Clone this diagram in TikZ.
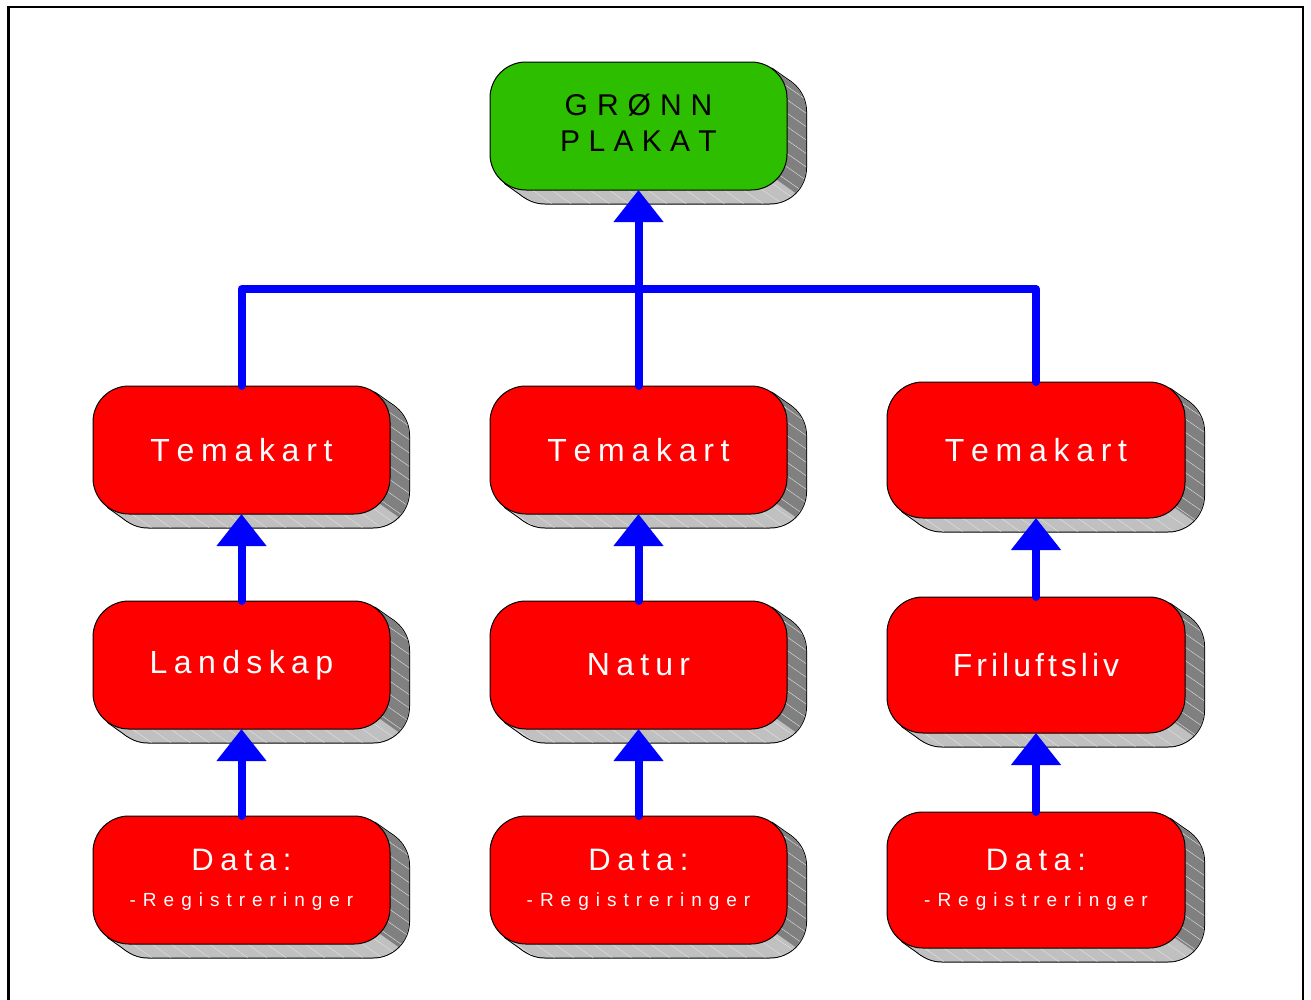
\documentclass[tikz,border=0pt]{standalone}
\usepackage{fontspec}
\setmainfont{Liberation Sans}
\usetikzlibrary{arrows.meta,patterns.meta}
\definecolor{grn}{RGB}{45,190,0}
\definecolor{rd}{RGB}{255,0,0}
\definecolor{shlight}{RGB}{192,192,192}
\definecolor{shdark}{RGB}{128,128,128}
\definecolor{connblue}{RGB}{0,0,255}

\newlength\lsp
\def\spc#1#2{\setlength\lsp{#1}\spcA#2\relax}
\def\spcA#1{\ifx\relax#1\unkern\else#1\kern\lsp\expandafter\spcA\fi}
\newcommand\twolines[2]{\vbox{\baselineskip=36pt\lineskiplimit=-100pt\lineskip=0pt
  \halign{\hfil##\hfil\cr#1\cr#2\cr}}}

\tikzset{
  card/.style={draw=black, line width=1pt, rounded corners=36pt, inner sep=0pt, outer sep=0pt},
  redcard/.style={card, fill=rd, text=white},
  greencard/.style={card, fill=grn, text=black},
  connector/.style={draw=connblue, line width=8pt, line cap=round, line join=round},
  arrowed/.style={connector, -{Triangle[width=48pt,length=32pt]}},
  shadowline/.style={draw=black, line width=2pt, line join=round},
  hatch/.style={pattern={Lines[angle=-35,distance=11pt,line width=0.4pt]}, pattern color=white!55!shlight},
}

% 3-D extrusion behind a card: #1 cx, #2 cy, #3 width, #4 height
\newcommand\cardshadow[4]{%
  \pgfmathsetmacro\xl{#1-#3/2}\pgfmathsetmacro\xr{#1+#3/2}%
  \pgfmathsetmacro\yt{#2-#4/2}\pgfmathsetmacro\yb{#2+#4/2}%
  \pgfmathsetmacro\Tax{\xr-36+36*0.579}\pgfmathsetmacro\Tay{\yt+36-36*0.815}%
  \pgfmathsetmacro\Tbx{\xl+36-36*0.579}\pgfmathsetmacro\Tby{\yb-36+36*0.815}%
  \pgfmathsetmacro\Qx{\xr-36+36*0.707}\pgfmathsetmacro\Qy{\yb-36+36*0.707}%
  \pgfmathsetmacro\sxl{\xl+19}\pgfmathsetmacro\sxr{\xr+19}%
  \pgfmathsetmacro\syt{\yt+13.5}\pgfmathsetmacro\syb{\yb+13.5}%
  \draw[shadowline, rounded corners=36pt] (\sxl,\syt) rectangle (\sxr,\syb);
  \draw[shadowline] (\Tax,\Tay) -- ++(19,13.5) -- (\Tbx+19,\Tby+13.5) -- (\Tbx,\Tby) -- cycle;
  \fill[shlight, rounded corners=36pt] (\sxl,\syt) rectangle (\sxr,\syb);
  \fill[shlight] (\Tax,\Tay) -- ++(19,13.5) -- (\Tbx+19,\Tby+13.5) -- (\Tbx,\Tby) -- cycle;
  \begin{scope}
    \clip[rounded corners=36pt] (\sxl,\syt) rectangle (\sxr,\syb);
    \fill[shdark] (#1,#2) -- (\Qx,\Qy) -- ++(38,27) -- ++(100,-300) -- (#1,\yt-300) -- cycle;
  \end{scope}
  \begin{scope}
    \clip (\Tax,\Tay) -- ++(19,13.5) -- (\Tbx+19,\Tby+13.5) -- (\Tbx,\Tby) -- cycle;
    \fill[shdark] (#1,#2) -- (\Qx,\Qy) -- ++(38,27) -- ++(100,-300) -- (#1,\yt-300) -- cycle;
  \end{scope}
  \fill[hatch, rounded corners=36pt] (\sxl,\syt) rectangle (\sxr,\syb);
  \fill[hatch] (\Tax,\Tay) -- ++(19,13.5) -- (\Tbx+19,\Tby+13.5) -- (\Tbx,\Tby) -- cycle;
}

\newcommand\bigtxt[2]{\fontsize{32}{36}\selectfont\spc{#1}{#2}}
\newcommand\datatxt{\twolines{\fontsize{31}{36}\selectfont\spc{6.5pt}{Data:}}{\fontsize{19}{36}\selectfont\spc{7pt}{-Registreringer}}}

\begin{document}
\begin{tikzpicture}[x=1pt,y=-1pt]
\useasboundingbox (0,0) rectangle (1311,999);
\fill[white] (0,0) rectangle (1311,999);
\draw[line width=2.6pt] (8.7,1005) -- (8.7,6.8) -- (1302.8,6.8) -- (1302.8,1005);

% top
\cardshadow{638.5}{126}{297}{128}
\node[greencard, minimum width=297pt, minimum height=128pt] (green) at (638.5,126)
  {\raisebox{6pt}{\twolines{\fontsize{30}{36}\selectfont\spc{9pt}{GRØNN}}{\fontsize{30}{36}\selectfont\spc{8.3pt}{PLAKAT}}}};

% Temakart row
\cardshadow{241.5}{450}{297}{128}
\node[redcard, minimum width=297pt, minimum height=128pt] (tk1) at (241.5,450) {\bigtxt{6.7pt}{Temakart}};
\cardshadow{638.5}{450}{297}{128}
\node[redcard, minimum width=297pt, minimum height=128pt] (tk2) at (638.5,450) {\bigtxt{6.7pt}{Temakart}};
\cardshadow{1036}{450}{298}{136}
\node[redcard, minimum width=298pt, minimum height=136pt] (tk3) at (1036,450) {\bigtxt{6.7pt}{Temakart}};

% theme row
\cardshadow{241.5}{665}{297}{128}
\node[redcard, minimum width=297pt, minimum height=128pt] (land) at (241.5,665) {\bigtxt{6.4pt}{Landskap}};
\cardshadow{638.5}{665}{297}{128}
\node[redcard, minimum width=297pt, minimum height=128pt] (natur) at (638.5,665) {\bigtxt{6.2pt}{Natur}};
\cardshadow{1036}{665}{298}{136}
\node[redcard, minimum width=298pt, minimum height=136pt] (fril) at (1036,665) {\bigtxt{4pt}{Friluftsliv}};

% data row
\cardshadow{241.5}{880}{297}{128}
\node[redcard, minimum width=297pt, minimum height=128pt] (data1) at (241.5,880) {\datatxt};
\cardshadow{638.5}{880}{297}{128}
\node[redcard, minimum width=297pt, minimum height=128pt] (data2) at (638.5,880) {\datatxt};
\cardshadow{1036}{880}{298}{136}
\node[redcard, minimum width=298pt, minimum height=136pt] (data3) at (1036,880) {\datatxt};

% connectors
\coordinate (bus) at (638.5,289);
\draw[connector] (tk1.north) |- (bus) -| (tk3.north);
\draw[arrowed] (tk2.north) -- (green.south);
\draw[arrowed] (land.north) -- (tk1.south);
\draw[arrowed] (natur.north) -- (tk2.south);
\draw[arrowed] (fril.north) -- (tk3.south);
\draw[arrowed] (data1.north) -- (land.south);
\draw[arrowed] (data2.north) -- (natur.south);
\draw[arrowed] (data3.north) -- (fril.south);
\end{tikzpicture}
\end{document}
